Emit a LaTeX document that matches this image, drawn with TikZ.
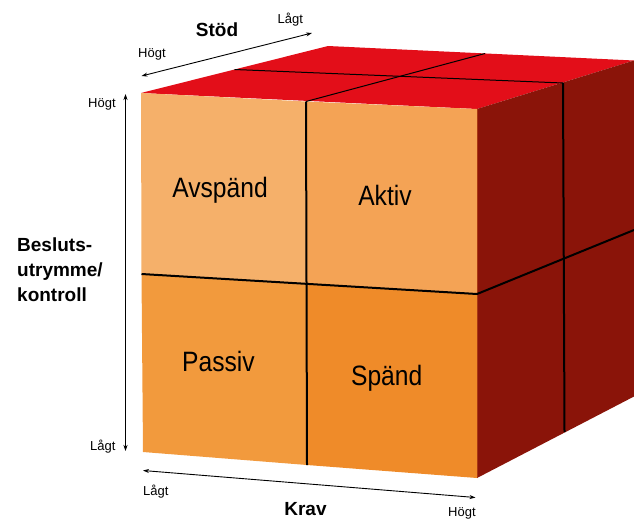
\documentclass[tikz,border=0pt]{standalone}
\usepackage{fontspec}
\setmainfont{Liberation Sans}
\newfontfamily\qfont[FakeStretch=0.88]{Liberation Sans}
\usetikzlibrary{arrows.meta}
\definecolor{cTop}{HTML}{E30E19}
\definecolor{cRight}{HTML}{8A1409}
\definecolor{cAv}{HTML}{F5B06A}
\definecolor{cAk}{HTML}{F4A355}
\definecolor{cPa}{HTML}{F29A3D}
\definecolor{cSp}{HTML}{EF8B29}
\begin{document}
\begin{tikzpicture}[x=1pt,y=-1pt,
  quad/.style={font=\qfont\fontsize{28}{30}\selectfont, anchor=base, inner sep=0pt},
  small/.style={font=\fontsize{13}{15}\selectfont, inner sep=0pt},
  big/.style={font=\bfseries\fontsize{19}{23}\selectfont, inner sep=0pt},
  divider/.style={line width=2pt, black},
  thindiv/.style={line width=1pt, black},
  axis/.style={line width=0.9pt, black, {Stealth[length=6pt,width=4pt]}-{Stealth[length=6pt,width=4pt]}}]
\useasboundingbox (0,0) rectangle (634,520);
% front face grid
\coordinate (TL) at (141,93);
\coordinate (TM) at (306,101.5);
\coordinate (TR) at (477,109);
\coordinate (ML) at (141.5,274);
\coordinate (MM) at (306.5,284);
\coordinate (MR) at (477,294);
\coordinate (BL) at (143,452);
\coordinate (BM) at (307,465);
\coordinate (BR) at (477,478);
% top face
\coordinate (KL) at (328,46);
\coordinate (KM) at (485,53.5);
\coordinate (KR) at (634,60.5);
\coordinate (SL) at (234.5,69.5);
\coordinate (SR) at (563,83);
% right face
\coordinate (RB) at (634,396.5);
\coordinate (RBM) at (564.5,432);
\coordinate (RM) at (634,230);
% faces
\fill[cTop] (TL) -- (KL) -- (KR) -- (TR) -- cycle;
\fill[cRight] (TR) -- (KR) -- (RB) -- (BR) -- cycle;
\fill[cAv] (TL) -- (TM) -- (MM) -- (ML) -- cycle;
\fill[cAk] (TM) -- (TR) -- (MR) -- (MM) -- cycle;
\fill[cPa] (ML) -- (MM) -- (BM) -- (BL) -- cycle;
\fill[cSp] (MM) -- (MR) -- (BR) -- (BM) -- cycle;
\draw[line width=0.6pt, color=cRight!70!cSp] (TR) -- (BR);
% dividers
\draw[divider] (TM) -- (BM);
\draw[divider] (ML) -- (MR) -- (RM);
\draw[divider] (SR) -- (RBM);
\draw[thindiv] (TM) -- (KM);
\draw[thindiv] (SL) -- (SR);
% quadrant labels
\node[quad] (av) at (220,197.3) {Avspänd};
\node[quad] (ak) at (385,205) {Aktiv};
\node[quad] (pa) at (218.5,371.7) {Passiv};
\node[quad] (sp) at (386.7,385) {Spänd};
% axes
\coordinate (vT) at (125.5,94);
\coordinate (vB) at (125.5,451);
\coordinate (sH) at (141.5,76);
\coordinate (sL) at (312,33);
\coordinate (kL) at (143,470.5);
\coordinate (kH) at (475.5,497.5);
\draw[axis] (vB) -- (vT);
\draw[axis] (sH) -- (sL);
\draw[axis] (kL) -- (kH);
% labels
\node[big, anchor=base] (stod) at (217,36.7) {Stöd};
\node[small, anchor=base west] (stodL) at (277.5,23.3) {Lågt};
\node[small, anchor=base west] (stodH) at (138,57.3) {Högt};
\node[small, anchor=base west] (vH) at (88,107.7) {Högt};
\node[small, anchor=base west] (vL) at (90,450) {Lågt};
\node[big, anchor=base west] (b1) at (17,251.7) {Besluts-};
\node[big, anchor=base west] (b2) at (17,276.7) {utrymme/};
\node[big, anchor=base west] (b3) at (17,301.7) {kontroll};
\node[small, anchor=base west] (kLt) at (143,495) {Lågt};
\node[small, anchor=base west] (kHt) at (448,516.7) {Högt};
\node[big, anchor=base] (krav) at (305.5,515) {Krav};
\end{tikzpicture}
\end{document}
